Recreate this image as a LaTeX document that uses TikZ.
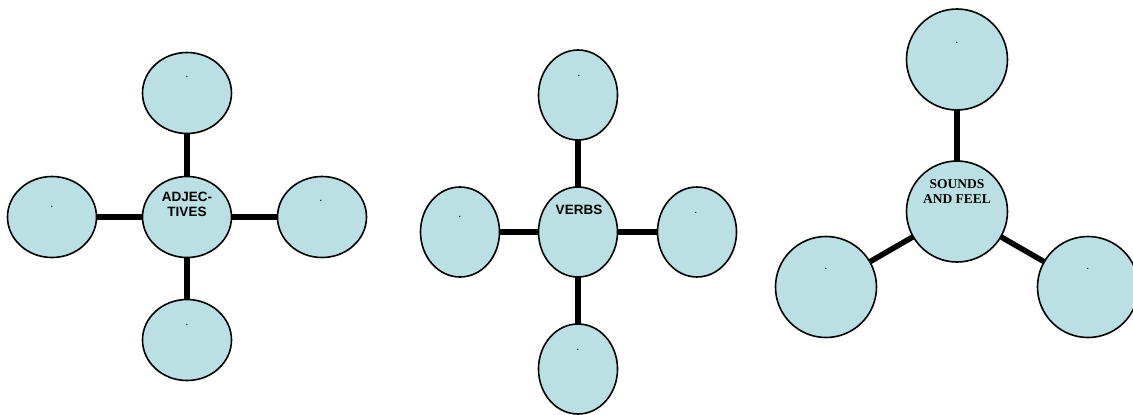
\documentclass[tikz,border=0pt]{standalone}
\usepackage{fontspec}
\setmainfont{Liberation Serif}
\setsansfont{Liberation Sans}
\usetikzlibrary{shapes.geometric,backgrounds}
\definecolor{bubble}{HTML}{BBE0E3}
\begin{document}
\begin{tikzpicture}[x=1pt,y=-1pt,
  bub/.style={ellipse,draw=black,line width=1.6pt,fill=bubble,inner sep=0pt},
  adj/.style={bub,minimum width=89pt,minimum height=81pt},
  vrb/.style={bub,minimum width=79pt,minimum height=90pt},
  snd/.style={bub,minimum width=101pt,minimum height=101pt},
  conn/.style={line width=5.5pt,black},
  dotlbl/.style={font=\sffamily\fontsize{11}{12}\selectfont,inner sep=0pt,anchor=base},
  lblsans/.style={font=\sffamily\bfseries\fontsize{13.5}{15}\selectfont,align=center,inner sep=0pt,anchor=north},
  lblserif/.style={font=\rmfamily\bfseries\fontsize{13.5}{15}\selectfont,align=center,inner sep=0pt,anchor=north}]
\useasboundingbox (0,0) rectangle (1133,415);
\clip (0,0) rectangle (1133,415);
% Diagram 1
\node[adj] (c1) at (187,217) {};
\node[adj] (t1) at (187,93) {};
\node[adj] (l1) at (52,217) {};
\node[adj] (r1) at (322,217) {};
\node[adj] (b1) at (187,340) {};
% Diagram 2
\node[vrb] (c2) at (578,232) {};
\node[vrb] (t2) at (578,95) {};
\node[vrb] (l2) at (460,232) {};
\node[vrb] (r2) at (697,232) {};
\node[vrb] (b2) at (578,369) {};
% Diagram 3
\node[snd] (c3) at (957,211.5) {};
\node[snd] (t3) at (957,59.5) {};
\node[snd] (l3) at (826,287) {};
\node[snd] (r3) at (1088,287) {};
\begin{pgfonlayer}{background}
\foreach \a in {t1,l1,r1,b1} \draw[conn] (c1.center) -- (\a.center);
\foreach \a in {t2,l2,r2,b2} \draw[conn] (c2.center) -- (\a.center);
\foreach \a in {t3,l3,r3} \draw[conn] (c3.center) -- (\a.center);
\end{pgfonlayer}
% labels
\node[lblsans] (lab1) at (187,192) {ADJEC-\\TIVES};
\node[lblsans] (lab2) at (579,204.5) {VERBS};
\node[lblserif] (lab3) at (957,179.5) {SOUNDS\\AND FEEL};
% dots
\node[dotlbl] (d1t) at (187,77) {.};
\node[dotlbl] (d1l) at (52,207) {.};
\node[dotlbl] (d1r) at (321,201) {.};
\node[dotlbl] (d1b) at (187,325) {.};
\node[dotlbl] (d2t) at (579,76) {.};
\node[dotlbl] (d2l) at (460,217) {.};
\node[dotlbl] (d2r) at (696,213) {.};
\node[dotlbl] (d2b) at (578,350) {.};
\node[dotlbl] (d3t) at (957,43) {.};
\node[dotlbl] (d3l) at (826,269) {.};
\node[dotlbl] (d3r) at (1088,269) {.};
\end{tikzpicture}
\end{document}
